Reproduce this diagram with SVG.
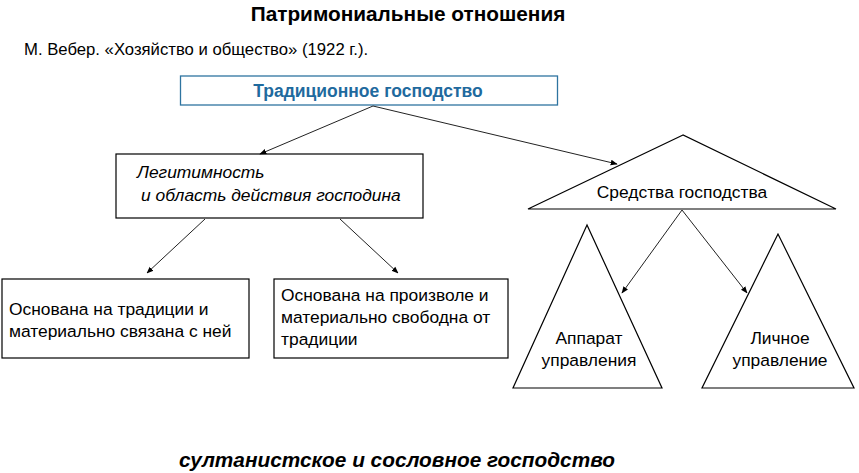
<svg xmlns="http://www.w3.org/2000/svg" width="859" height="473" viewBox="0 0 859 473">
<defs>
<marker id="ah" viewBox="0 0 10 10" refX="9" refY="5" markerWidth="7" markerHeight="7" orient="auto" markerUnits="userSpaceOnUse">
<path d="M0,1 L10,5 L0,9 Z" fill="#000"/>
</marker>
<style>
text{font-family:"Liberation Sans",Arial,sans-serif;fill:#000}
.shape{fill:#fff;stroke:#000;stroke-width:1.2}
.lbl{font-size:17.4px}
.it{font-style:italic}
.conn line{stroke:#222;stroke-width:1}
</style>
</defs>
<rect width="859" height="473" fill="#fff"/>
<text x="408" y="21" text-anchor="middle" font-size="20.8" font-weight="bold">Патримониальные отношения</text>
<text x="24" y="55" font-size="16.7">М. Вебер. «Хозяйство и общество» (1922 г.).</text>

<g id="traditional">
<rect x="180.5" y="76" width="377" height="29" fill="#fff" stroke="#2E74A0" stroke-width="1.3"/>
<text x="368" y="97" text-anchor="middle" font-size="17.5" font-weight="bold" style="fill:#1F6A9E">Традиционное господство</text>
</g>

<g id="legitimacy">
<rect class="shape" x="116" y="154" width="307" height="64"/>
<text class="lbl it" x="137" y="178">Легитимность</text>
<text class="lbl it" x="141" y="201">и область действия господина</text>
</g>

<g id="means">
<polygon class="shape" points="683,135 528,209 836,209"/>
<text class="lbl" x="682" y="198" text-anchor="middle">Средства господства</text>
</g>

<g id="tradition-based">
<rect class="shape" x="2" y="279" width="247" height="79"/>
<text class="lbl" x="9" y="315">Основана на традиции и</text>
<text class="lbl" x="9" y="337">материально связана с ней</text>
</g>

<g id="arbitrary-based">
<rect class="shape" x="274" y="279" width="234" height="79"/>
<text class="lbl" x="281" y="301">Основана на произволе и</text>
<text class="lbl" x="281" y="323">материально свободна от</text>
<text class="lbl" x="281" y="345">традиции</text>
</g>

<g id="apparatus">
<polygon class="shape" points="587,225 513,388 662,388"/>
<text class="lbl" x="589" y="344" text-anchor="middle">Аппарат</text>
<text class="lbl" x="589" y="366" text-anchor="middle">управления</text>
</g>

<g id="personal">
<polygon class="shape" points="778,234 702,388 854,388"/>
<text class="lbl" x="780" y="344" text-anchor="middle">Личное</text>
<text class="lbl" x="780" y="366" text-anchor="middle">управление</text>
</g>

<g class="conn" id="connectors">
<line x1="373" y1="106" x2="260" y2="154" marker-end="url(#ah)"/>
<line x1="373" y1="106" x2="617" y2="164" marker-end="url(#ah)"/>
<line x1="205" y1="219" x2="147" y2="273" marker-end="url(#ah)"/>
<line x1="340" y1="219" x2="398" y2="273" marker-end="url(#ah)"/>
<line x1="682" y1="210" x2="622" y2="293" marker-end="url(#ah)"/>
<line x1="682" y1="210" x2="747" y2="293" marker-end="url(#ah)"/>
</g>

<text x="397" y="467" text-anchor="middle" font-size="20.8" font-weight="bold" font-style="italic">султанистское и сословное господство</text>
</svg>
